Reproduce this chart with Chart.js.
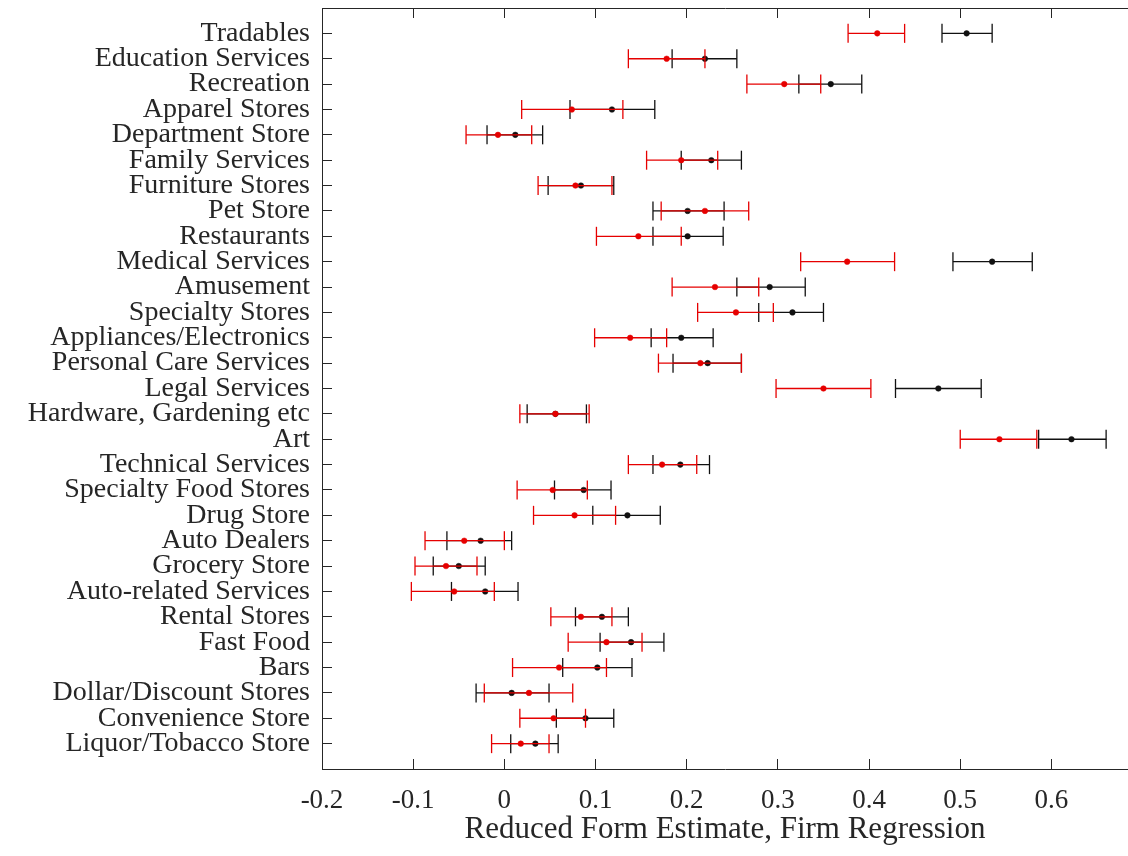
<!DOCTYPE html>
<html>
<head>
<meta charset="utf-8">
<script src="https://cdn.jsdelivr.net/npm/chart.js@4"></script>
<style>
  body { margin: 0; background: #fff; }
</style>
</head>
<body>
<canvas id="chart" width="1128" height="856"></canvas>
<script>
// Categories, top to bottom
const categories = [
    'Tradables', 'Education Services', 'Recreation', 'Apparel Stores', 'Department Store',
    'Family Services', 'Furniture Stores', 'Pet Store', 'Restaurants', 'Medical Services',
    'Amusement', 'Specialty Stores', 'Appliances/Electronics', 'Personal Care Services',
    'Legal Services', 'Hardware, Gardening etc', 'Art', 'Technical Services',
    'Specialty Food Stores', 'Drug Store', 'Auto Dealers', 'Grocery Store',
    'Auto-related Services', 'Rental Stores', 'Fast Food', 'Bars',
    'Dollar/Discount Stores', 'Convenience Store', 'Liquor/Tobacco Store'
];

// Red series: estimate and interval
const redMid  = [0.409, 0.178, 0.307, 0.074, -0.007, 0.194, 0.078, 0.220, 0.147, 0.376, 0.231, 0.254, 0.138, 0.215, 0.350, 0.056, 0.543, 0.173, 0.053, 0.077, -0.044, -0.064, -0.055, 0.084, 0.112, 0.060, 0.027, 0.054, 0.018];
const redLow  = [0.377, 0.136, 0.266, 0.019, -0.042, 0.156, 0.037, 0.172, 0.101, 0.325, 0.184, 0.212, 0.099, 0.169, 0.298, 0.017, 0.500, 0.136, 0.014, 0.032, -0.087, -0.098, -0.102, 0.051, 0.070, 0.009, -0.022, 0.017, -0.014];
const redHigh = [0.439, 0.220, 0.347, 0.130, 0.030, 0.234, 0.118, 0.268, 0.194, 0.428, 0.279, 0.295, 0.178, 0.260, 0.402, 0.093, 0.584, 0.211, 0.091, 0.122, 0.000, -0.030, -0.011, 0.118, 0.151, 0.112, 0.075, 0.089, 0.049];

// Black series: estimate and interval
const blackMid  = [0.507, 0.220, 0.358, 0.118, 0.012, 0.227, 0.084, 0.201, 0.201, 0.535, 0.291, 0.316, 0.194, 0.223, 0.476, 0.056, 0.622, 0.193, 0.087, 0.135, -0.026, -0.050, -0.021, 0.107, 0.139, 0.102, 0.008, 0.089, 0.034];
const blackLow  = [0.480, 0.184, 0.323, 0.072, -0.019, 0.194, 0.048, 0.163, 0.163, 0.492, 0.255, 0.279, 0.161, 0.185, 0.429, 0.025, 0.586, 0.163, 0.055, 0.097, -0.063, -0.078, -0.058, 0.078, 0.105, 0.064, -0.031, 0.057, 0.007];
const blackHigh = [0.535, 0.255, 0.392, 0.165, 0.042, 0.260, 0.120, 0.241, 0.240, 0.579, 0.330, 0.350, 0.229, 0.260, 0.523, 0.090, 0.660, 0.225, 0.117, 0.171, 0.008, -0.021, 0.015, 0.136, 0.175, 0.140, 0.049, 0.120, 0.059];

const xTicks = [-0.2, -0.1, 0, 0.1, 0.2, 0.3, 0.4, 0.5, 0.6];
const xTickLabels = ['-0.2', '-0.1', '0', '0.1', '0.2', '0.3', '0.4', '0.5', '0.6'];
const xTitle = 'Reduced Form Estimate, Firm Regression';

const RED = '#e60000';
const BLACK = '#111111';
const AXIS = '#262626';
const FONT = 'Liberation Serif';

// one dataset per interval, caps drawn as rotated line markers
function intervalSets(low, high, color, order) {
    return low.map((lo, i) => ({
        type: 'scatter',
        showLine: true,
        data: [{ x: lo, y: i + 1 }, { x: high[i], y: i + 1 }],
        borderColor: color,
        borderWidth: 1.3,
        pointStyle: 'line',
        pointRotation: 90,
        pointRadius: 9.5,
        pointBorderColor: color,
        pointBorderWidth: 1.3,
        order: order
    }));
}

function estimateSet(mid, color, order) {
    return {
        type: 'scatter',
        data: mid.map((v, i) => ({ x: v, y: i + 1 })),
        pointRadius: 2.8,
        pointBackgroundColor: color,
        pointBorderColor: color,
        pointBorderWidth: 0.5,
        order: order
    };
}

const datasets = [
    estimateSet(redMid, RED, 0),
    ...intervalSets(redLow, redHigh, RED, 1),
    estimateSet(blackMid, BLACK, 2),
    ...intervalSets(blackLow, blackHigh, BLACK, 3)
];

const setXTicks = scale => { scale.ticks = xTicks.map(v => ({ value: v })); };
const noPad = s => { s.paddingLeft = 0; s.paddingRight = 0; s.paddingTop = 0; s.paddingBottom = 0; };

new Chart(document.getElementById('chart'), {
    type: 'scatter',
    data: { datasets: datasets },
    options: {
        responsive: false,
        animation: false,
        layout: { padding: 0, autoPadding: false },
        plugins: { legend: { display: false }, tooltip: { enabled: false } },
        scales: {
            x: {
                type: 'linear',
                position: 'bottom',
                min: -0.2,
                max: 0.684,
                afterBuildTicks: setXTicks,
                afterFit: s => { s.height = 87; noPad(s); },
                grid: { drawOnChartArea: false, tickLength: -10, color: AXIS },
                border: { color: AXIS, width: 1 },
                ticks: {
                    padding: 26,
                    maxRotation: 0,
                    autoSkip: false,
                    color: AXIS,
                    font: { family: FONT, size: 27 },
                    callback: (v, i) => xTickLabels[i]
                },
                title: {
                    display: true,
                    text: xTitle,
                    color: AXIS,
                    font: { family: FONT, size: 31 },
                    padding: { top: 0, bottom: 8 }
                }
            },
            x2: {
                type: 'linear',
                position: 'top',
                min: -0.2,
                max: 0.684,
                afterBuildTicks: setXTicks,
                afterFit: s => { s.height = 8; noPad(s); },
                grid: { drawOnChartArea: false, tickLength: -10, color: AXIS },
                border: { color: AXIS, width: 1 },
                ticks: { display: false }
            },
            y: {
                type: 'linear',
                position: 'left',
                reverse: true,
                min: 0,
                max: 30,
                afterBuildTicks: s => { s.ticks = categories.map((c, i) => ({ value: i + 1 })); },
                afterFit: s => { s.width = 322; noPad(s); },
                grid: { drawOnChartArea: false, tickLength: -10, color: AXIS },
                border: { color: AXIS, width: 1 },
                ticks: {
                    padding: 22,
                    autoSkip: false,
                    color: AXIS,
                    font: { family: FONT, size: 28 },
                    callback: v => categories[v - 1]
                }
            }
        }
    }
});
</script>
</body>
</html>
